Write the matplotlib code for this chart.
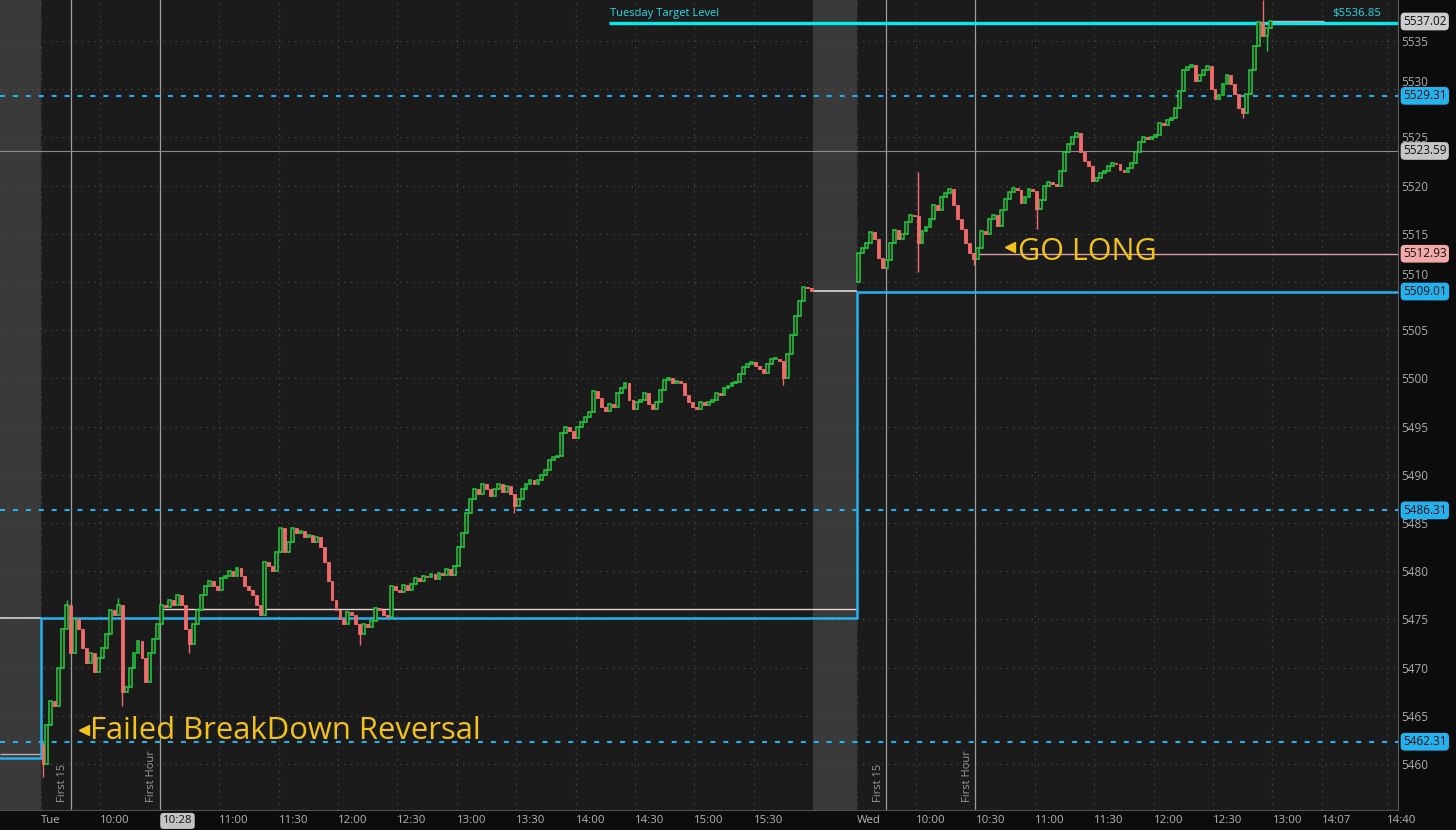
import matplotlib
matplotlib.use("Agg")
import matplotlib.pyplot as plt
import matplotlib.transforms as mtransforms
import numpy as np

plt.rcParams['font.family'] = ['Open Sans', 'DejaVu Sans']

# ---------------- data ----------------
# 2-minute bars, Tuesday session (close of each bar)
tue_open = 5462.0
tue_close = [
    5460.0, 5464.0, 5466.5, 5466.0, 5470.0, 5474.0, 5476.5, 5471.5, 5475.0, 5474.0,
    5472.0, 5470.5, 5471.5, 5469.5, 5471.0, 5472.0, 5473.5, 5476.0, 5475.5, 5476.5,
    5467.5, 5468.0, 5470.0, 5471.5, 5472.8, 5471.0, 5468.5, 5471.5, 5473.0, 5474.5,
    5476.5, 5476.3, 5477.0, 5476.5, 5477.5, 5476.5, 5474.0, 5472.5, 5474.5, 5476.0,
    5477.5, 5478.5, 5479.0, 5478.5, 5478.0, 5479.3, 5479.5, 5480.0, 5479.5, 5480.3,
    5479.5, 5478.5, 5478.0, 5477.5, 5476.5, 5475.5, 5481.0, 5480.5, 5480.0, 5482.0,
    5484.5, 5482.0, 5483.0, 5484.5, 5484.0, 5484.2, 5483.5, 5483.8, 5483.0, 5483.5,
    5482.5, 5481.0, 5479.0, 5477.0, 5476.0, 5475.0, 5474.5, 5475.8, 5475.5, 5474.5,
    5473.5, 5474.5, 5474.2, 5474.8, 5476.2, 5476.0, 5475.5, 5475.2, 5478.5, 5478.0,
    5477.8, 5478.6, 5478.0, 5478.7, 5479.3, 5479.0, 5479.5, 5479.4, 5479.7, 5479.2,
    5479.8, 5479.6, 5480.2, 5479.6, 5480.5, 5482.5, 5484.0, 5486.0, 5487.5, 5488.5,
    5488.0, 5489.0, 5488.5, 5487.8, 5488.5, 5489.0, 5488.2, 5488.8, 5488.0, 5486.8,
    5487.5, 5488.5, 5489.0, 5489.5, 5489.0, 5489.5, 5490.0, 5490.5, 5491.5, 5491.8,
    5492.0, 5494.3, 5495.0, 5494.5, 5493.8, 5495.0, 5495.5, 5496.0, 5496.5, 5498.7,
    5498.0, 5497.0, 5496.6, 5497.3, 5497.0, 5498.5, 5499.0, 5499.5, 5497.8, 5496.8,
    5497.5, 5497.8, 5498.5, 5497.3, 5496.8, 5497.5, 5498.8, 5499.8, 5500.0, 5499.5,
    5499.7, 5499.5, 5498.3, 5497.5, 5497.0, 5496.8, 5497.5, 5497.2, 5497.6, 5497.8,
    5498.5, 5498.3, 5499.0, 5499.2, 5499.5, 5499.6, 5500.5, 5501.2, 5501.5, 5501.7,
    5501.3, 5501.0, 5500.6, 5501.5, 5502.0, 5502.0, 5501.8, 5500.0, 5502.5, 5504.5,
    5506.5, 5508.0, 5509.5, 5509.4, 5509.1,
]
# notable wicks: bar index -> (high, low)
tue_wicks = {0: (5462.3, 5458.7), 6: (5477.0, None), 19: (5477.2, None),
             20: (None, 5466.0), 37: (None, 5471.5), 80: (None, 5472.3),
             119: (None, 5486.0), 187: (None, 5499.3)}

# 2-minute bars, Wednesday session
wed_open = 5510.0
wed_close = [
    5513.0, 5513.5, 5514.0, 5515.2, 5514.5, 5512.5, 5511.5, 5512.3, 5514.0, 5515.4,
    5514.5, 5515.0, 5516.2, 5517.0, 5516.8, 5514.0, 5515.3, 5515.7, 5516.5, 5518.0,
    5517.5, 5518.8, 5519.2, 5519.6, 5518.0, 5516.5, 5515.5, 5514.0, 5513.0, 5512.4,
    5513.5, 5515.3, 5515.0, 5516.5, 5517.0, 5515.8, 5517.5, 5518.6, 5519.3, 5519.8,
    5519.5, 5518.2, 5518.8, 5519.6, 5519.4, 5517.6, 5518.5, 5520.0, 5520.4, 5520.2,
    5520.0, 5521.5, 5523.5, 5524.3, 5525.0, 5525.5, 5523.5, 5522.5, 5522.0, 5520.5,
    5520.8, 5521.3, 5521.5, 5522.0, 5522.3, 5522.2, 5521.6, 5521.4, 5521.8, 5522.3,
    5523.5, 5524.5, 5525.0, 5524.8, 5525.0, 5525.2, 5526.5, 5526.3, 5526.8, 5527.0,
    5528.0, 5529.8, 5532.0, 5532.3, 5532.5, 5530.8, 5531.5, 5532.0, 5532.4, 5530.0,
    5529.0, 5529.4, 5530.5, 5531.5, 5530.5, 5529.5, 5528.0, 5527.5, 5529.5, 5532.0,
    5534.5, 5537.0, 5535.5, 5536.3, 5537.02,
]
wed_wicks = {15: (5521.4, 5511.0), 29: (None, 5511.8), 45: (None, 5515.5),
             97: (None, 5527.0), 102: (5539.2, None), 103: (None, 5534.0)}

# time axis (minutes since Tue 9:30; Wed 9:30 placed at 412)
wed_start = 412
bar_minutes = 2
xtick_pos = [0, 30, 90, 120, 150, 180, 210, 240, 270, 300, 330, 360,
             412, 442, 472, 502, 532, 562, 592, 622, 647, 680]
xtick_lbl = ['Tue', '10:00', '11:00', '11:30', '12:00', '12:30', '13:00', '13:30',
             '14:00', '14:30', '15:00', '15:30', 'Wed', '10:00', '10:30', '11:00',
             '11:30', '12:00', '12:30', '13:00', '14:07', '14:40']
first15 = [15, 427]
first_hour = [60, 472]

# levels
dashed_levels = [5529.31, 5486.31, 5462.31]
gray_level = 5523.59
target_level = 5536.85
target_start = 287
go_long_level = 5512.93
step_levels = [5460.6, 5475.1, 5509.01]
fh_level_tue = 5476.1
prev_levels_left = [5475.15, 5461.0]
tue_close_level = 5509.1
last_price = 5537.02
ytick_vals = [5460, 5465, 5470, 5475, 5480, 5485, 5490, 5495, 5500, 5505,
              5510, 5515, 5520, 5525, 5530, 5535]

# ---------------- style ----------------
BG = '#1b1b1b'
GREEN = '#22cc40'
RED = '#f26a6a'
BLUE = '#24b2ee'
CYAN = '#00ecec'
GOLD = '#f2c316'
XMIN, XMAX = -20.7, 685.4
YMIN, YMAX = 5455.23, 5539.25

fig = plt.figure(figsize=(14.56, 8.30), dpi=100)
fig.patch.set_facecolor('#0c0c0c')
ax = fig.add_axes([0, 20 / 830, 1398 / 1456, 810 / 830])
ax.set_facecolor(BG)
ax.set_xlim(XMIN, XMAX)
ax.set_ylim(YMIN, YMAX)

# extended-hours shading
ax.axvspan(XMIN, 0, color='#3a3a3a', zorder=0.5, lw=0)
ax.axvspan(390, wed_start, color='#3a3a3a', zorder=0.5, lw=0)
for xb in (0, wed_start):
    ax.axvline(xb, color='#262626', ls=(0, (3, 3)), lw=1.0, zorder=0.6)

# grid
ax.set_yticks(ytick_vals)
ax.set_xticks(xtick_pos)
ax.set_xticklabels(xtick_lbl, ha='left')
ax.grid(True, color='#4a4a4a', ls=(0, (1, 4)), lw=0.9, zorder=0.7)
ax.set_axisbelow(True)
ax.yaxis.tick_right()
ax.tick_params(axis='y', length=0, pad=2.5, labelsize=8.5, colors='#ababab')
ax.tick_params(axis='x', length=0, pad=3.5, labelsize=8.2, colors='#b4b4b4')
for s in ('top', 'left'):
    ax.spines[s].set_visible(False)
ax.spines['right'].set_color('#5c5c5c')
ax.spines['bottom'].set_color('#505050')
# the price boxes sit on top of the 5530 / 5510 labels: nudge those labels up
for lbl, v in zip(ax.get_yticklabels(), ytick_vals):
    if v in (5530, 5510):
        lbl.set_va('bottom')

# first 15 / first hour lines
for xv in first15 + first_hour:
    ax.axvline(xv, color='#9c9c9c', lw=0.9, zorder=1)
for xv in first15:
    ax.text(xv - 1.2, 5456.1, 'First 15', rotation=90, ha='right', va='bottom',
            fontsize=8, color='#9a9a9a', zorder=2)
for xv in first_hour:
    ax.text(xv - 1.2, 5456.1, 'First Hour', rotation=90, ha='right', va='bottom',
            fontsize=8, color='#9a9a9a', zorder=2)

# level lines
for lv in dashed_levels:
    ax.axhline(lv, color=BLUE, lw=1.5, dashes=(2.4, 3.8), zorder=2)
ax.axhline(gray_level, color='#8a8a8a', lw=0.8, zorder=2)
ax.hlines(go_long_level, first_hour[1], XMAX, color='#d9a3a3', lw=1.0, zorder=2)
ax.hlines(fh_level_tue, first_hour[0], wed_start, color='#e8d2d2', lw=1.0, zorder=2)
ax.hlines(prev_levels_left[0], XMIN, 0, color='#d0d0d0', lw=1.2, zorder=2)
ax.hlines(prev_levels_left[1], XMIN, 0, color='#c9a9a9', lw=1.0, zorder=2)
ax.hlines(tue_close_level, 390, wed_start, color='#cfcfcf', lw=1.3, zorder=2)
ax.step([XMIN, 0, wed_start, XMAX],
        [step_levels[0], step_levels[1], step_levels[2], step_levels[2]],
        where='post', color=BLUE, lw=1.8, zorder=3)
ax.hlines(target_level, target_start, XMAX, color=CYAN, lw=2.4, zorder=3)
ax.hlines(last_price, wed_start + 2 * len(wed_close), 648, color='#bdbdbd', lw=1.0, zorder=3)


# candles
def draw_day(closes, first_open, offset, wicks):
    c = np.array(closes, dtype=float)
    o = np.concatenate([[first_open], c[:-1]])
    hi = np.maximum(o, c)
    lo = np.minimum(o, c)
    for i, (h, l) in wicks.items():
        if h is not None:
            hi[i] = h
        if l is not None:
            lo[i] = l
    x = offset + bar_minutes * np.arange(len(c)) + bar_minutes / 2
    up = c >= o
    cols = np.where(up, GREEN, RED)
    ax.vlines(x, lo, hi, colors=cols, lw=1.0, zorder=4)
    body = np.maximum(np.abs(c - o), 0.08)
    ax.bar(x[up], body[up], bottom=o[up], width=1.45, facecolor=BG,
           edgecolor=GREEN, lw=1.1, zorder=5)
    ax.bar(x[~up], body[~up], bottom=c[~up], width=1.45, facecolor=RED,
           edgecolor=RED, lw=0.6, zorder=5)


draw_day(tue_close, tue_open, 0, tue_wicks)
draw_day(wed_close, wed_open, wed_start, wed_wicks)

# target label texts
ax.text(target_start + 0.5, target_level + 0.45, 'Tuesday Target Level', color='#22dde8',
        fontsize=8, ha='left', va='bottom', zorder=6)
ax.text(676.8, target_level + 0.45, '$%.2f' % target_level, color='#22dde8',
        fontsize=8.2, ha='right', va='bottom', zorder=6)

# annotations
ax.plot([21.7], [5463.5], marker='<', ms=6.5, color=GOLD, zorder=7, ls='none')
ax.text(24.7, 5462.55, 'Failed BreakDown Reversal', color=GOLD, fontsize=22.3,
        ha='left', va='baseline', zorder=7)
ax.plot([489.4], [5513.6], marker='<', ms=6.5, color=GOLD, zorder=7, ls='none')
ax.text(493.4, 5512.25, 'GO LONG', color=GOLD, fontsize=22,
        ha='left', va='baseline', zorder=7)

# right side price boxes
ytrans = mtransforms.blended_transform_factory(ax.transAxes, ax.transData)
price_boxes = [(last_price, '#cdcdcd'), (dashed_levels[0], BLUE), (gray_level, '#c6c6c6'),
               (go_long_level, '#f3a9a9'), (step_levels[2], BLUE),
               (dashed_levels[1], BLUE), (dashed_levels[2], BLUE)]
for val, fc in price_boxes:
    ax.text(1.0 + 5 / 1398, val, '%.2f' % val, transform=ytrans, ha='left', va='center',
            fontsize=8.5, color='#111111', clip_on=False, zorder=10,
            bbox=dict(boxstyle='round,pad=0.2,rounding_size=0.35', fc=fc, ec='none'))

# 10:28 cursor box on the time axis
xtrans = mtransforms.blended_transform_factory(ax.transData, ax.transAxes)
ax.text(first_hour[0] + 1.5, -0.0135, '10:28', transform=xtrans, ha='left', va='center',
        fontsize=8.2, color='#111111', clip_on=False, zorder=10,
        bbox=dict(boxstyle='round,pad=0.22,rounding_size=0.3', fc='#c3c3c3', ec='none'))

fig.savefig('out.png', dpi=100, facecolor=fig.get_facecolor())
